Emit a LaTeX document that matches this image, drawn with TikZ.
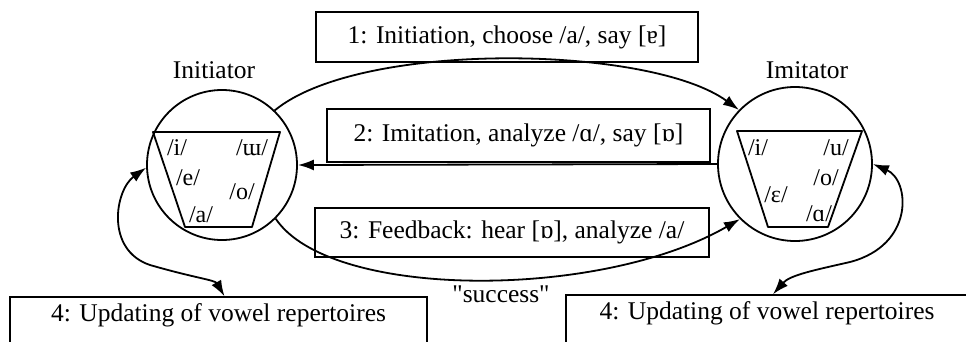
\documentclass[tikz,border=0pt]{standalone}
\usepackage{fontspec}
\setmainfont{Liberation Serif}
\usetikzlibrary{arrows.meta}
\tikzset{
  lbl/.style={font=\fontsize{25.5}{30}\selectfont, inner sep=0pt},
  vowel/.style={font=\fontsize{24}{28}\selectfont, inner sep=0pt},
  msgbox/.style={draw, line width=1.4pt, inner sep=0pt,
    font=\fontsize{25.5}{30}\selectfont},
  agent/.style={draw, circle, line width=1.8pt, inner sep=0pt},
  chart/.style={line width=1.8pt, line join=round},
  arr/.style={line width=1.8pt, -{Latex[length=16pt,width=11pt]}},
  darr/.style={line width=1.8pt, {Latex[length=16pt,width=11pt]}-{Latex[length=16pt,width=11pt]}},
}
\begin{document}
\begin{tikzpicture}[x=1pt,y=-1pt]
\useasboundingbox (0,0) rectangle (966,341);
\clip (0,0) rectangle (966,341);

% agents
\node[lbl] (tInit) at (214,70) {Initiator};
\node[lbl] (tImit) at (807,70) {Imitator};
\node[agent, minimum size=150pt] (L) at (222,165) {};
\node[agent, minimum size=154pt] (R) at (795,164) {};

% vowel charts
\draw[chart] (153,132) -- (280,132) -- (252,227) -- (185,227) -- cycle;
\node[vowel] (li) at (177,148) {/i/};
\node[vowel] (lu) at (252,148) {/ɯ/};
\node[vowel] (le) at (188,178) {/e/};
\node[vowel] (lo) at (242,192) {/o/};
\node[vowel] (la) at (201,215) {/a/};

\draw[chart] (737,131) -- (862,131) -- (828,227) -- (768,227) -- cycle;
\node[vowel] (ri) at (758,148) {/i/};
\node[vowel] (ru) at (836,148) {/u/};
\node[vowel] (ro) at (826,178) {/o/};
\node[vowel] (re) at (776,195) {/ɛ/};
\node[vowel] (ra) at (819,214) {/ɑ/};

% message boxes
\node[msgbox, minimum width=382pt, minimum height=50pt] (m1) at (507,37)
  {1: Initiation, choose /a/, say [ɐ]};
\node[msgbox, minimum width=383pt, minimum height=53pt] (m2) at (518.5,135.5)
  {2: Imitation, analyze /ɑ/, say [ɒ]};
\node[msgbox, minimum width=394pt, minimum height=49pt] (m3) at (512,232.5)
  {3: Feedback: hear [ɒ], analyze /a/};

% update boxes (running past the lower edge)
\node[msgbox, minimum width=417pt, minimum height=52pt, text height=18pt,
  text depth=22pt] (u1) at (218.5,323) {4: Updating of vowel repertoires};
\node[msgbox, minimum width=402pt, minimum height=52pt, text height=18pt,
  text depth=22pt] (u2) at (767,321) {4: Updating of vowel repertoires};

% straight typewriter-style quotes
\node[lbl] (succ) at (501,294) {\addfontfeatures{Ligatures=TeXOff}"success"};

% exchanges
\draw[arr] (L.46) .. controls (360,40) and (650,45) .. (R.136);
\draw[arr] (R.west) -- (L.east);
\draw[arr] (L.-45) .. controls (330,300) and (600,300) .. (R.225);

% updates
\coordinate (u1in) at ([xshift=6pt]u1.north);
\coordinate (u2in) at ([xshift=6pt]u2.north);
\draw[darr] (L.182) .. controls (115,190) and (105,250) .. (150,265)
  .. controls (195,278) and (215,280) .. (u1in);
\draw[darr] (R.0) .. controls (910,180) and (915,245) .. (850,262)
  .. controls (815,270) and (790,275) .. (u2in);
\end{tikzpicture}
\end{document}
